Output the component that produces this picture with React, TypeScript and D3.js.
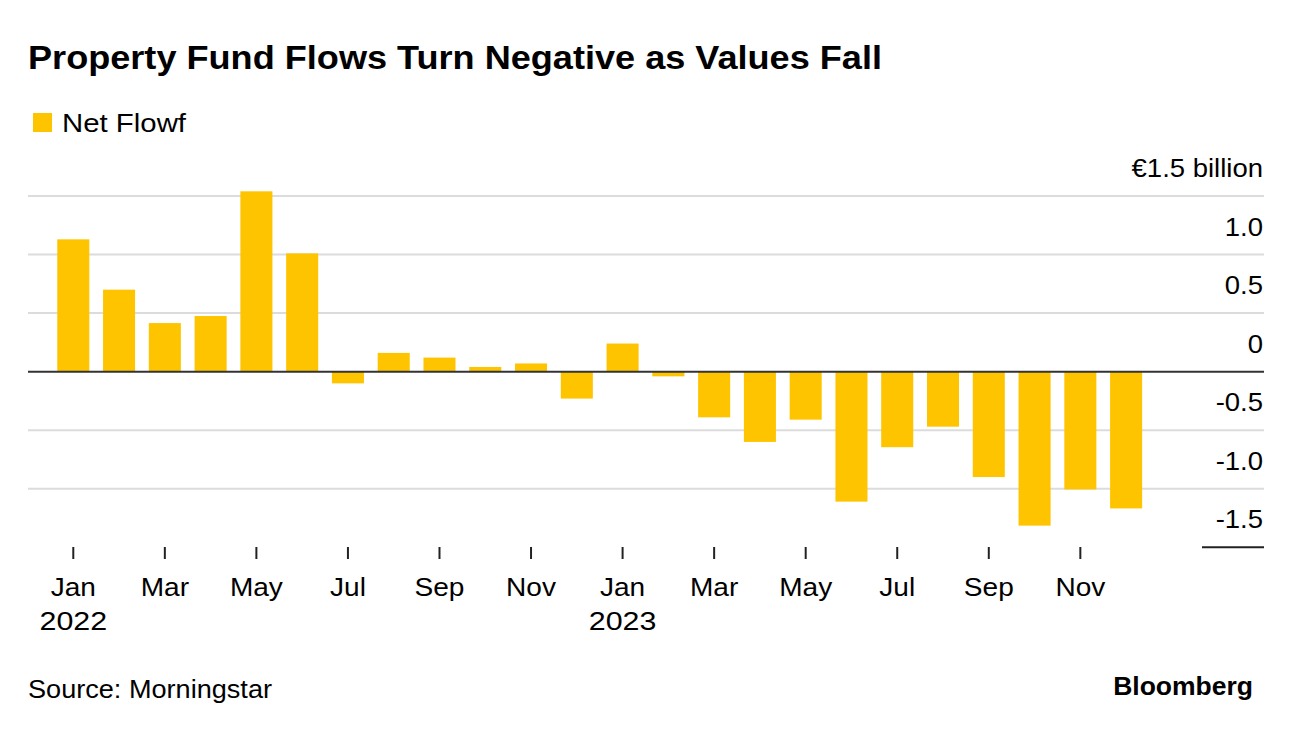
import React from "react";
import { scaleBand, scaleLinear } from "d3";

const months = [
  "2022-01", "2022-02", "2022-03", "2022-04", "2022-05", "2022-06",
  "2022-07", "2022-08", "2022-09", "2022-10", "2022-11", "2022-12",
  "2023-01", "2023-02", "2023-03", "2023-04", "2023-05", "2023-06",
  "2023-07", "2023-08", "2023-09", "2023-10", "2023-11", "2023-12"
];
// Net flow, EUR billion
const netFlow = [
  1.13, 0.70, 0.415, 0.475, 1.54, 1.01,
  -0.10, 0.16, 0.12, 0.04, 0.07, -0.23,
  0.24, -0.04, -0.39, -0.60, -0.41, -1.11,
  -0.645, -0.47, -0.90, -1.315, -1.006, -1.168
];
const monthNames = ["Jan", "Feb", "Mar", "Apr", "May", "Jun", "Jul", "Aug", "Sep", "Oct", "Nov", "Dec"];
const yTicks = [1.5, 1.0, 0.5, 0, -0.5, -1.0, -1.5];
const yTickLabels = ["€1.5 billion", "1.0", "0.5", "0", "-0.5", "-1.0", "-1.5"];

const W = 1292;
const H = 730;
const FONT = "'Liberation Sans', Arial, Helvetica, sans-serif";
const BAR = "#ffc400";

export default function App() {
  const x = scaleBand<string>()
    .domain(months)
    .range([50.4, 1149])
    .paddingInner(0.3)
    .paddingOuter(0.15);

  const y = scaleLinear().domain([-1.5, 1.5]).range([547.3, 196]);

  const gridLeft = 28;
  const gridRight = 1264;

  return (
    <svg
      width={W}
      height={H}
      viewBox={`0 0 ${W} ${H}`}
      style={{ position: "absolute", left: 0, top: 0, background: "#fff" }}
      fontFamily={FONT}
    >
      {/* Title */}
      <text
        x={28}
        y={69}
        fontSize={33}
        fontWeight={700}
        fill="#000"
        textLength={854}
        lengthAdjust="spacingAndGlyphs"
      >
        Property Fund Flows Turn Negative as Values Fall
      </text>

      {/* Legend */}
      <rect x={33} y={113} width={19} height={19} fill={BAR} />
      <text x={62} y={131.5} fontSize={26} fill="#000" textLength={124} lengthAdjust="spacingAndGlyphs">
        Net Flowf
      </text>

      {/* Grid lines */}
      {yTicks.map((v) => {
        if (v === 0) return null;
        if (v === -1.5) {
          return (
            <line key={v} x1={1202} x2={gridRight} y1={y(v)} y2={y(v)} stroke="#222" strokeWidth={2} />
          );
        }
        return (
          <line key={v} x1={gridLeft} x2={gridRight} y1={y(v)} y2={y(v)} stroke="#dcdcdc" strokeWidth={2} />
        );
      })}

      {/* Y labels */}
      {yTicks.map((v, i) => (
        <text
          key={v}
          transform={`translate(1263,${y(v) - 19}) scale(1.1,1)`}
          textAnchor="end"
          fontSize={25}
          fill="#000"
        >
          {yTickLabels[i]}
        </text>
      ))}

      {/* Bars */}
      {months.map((m, i) => {
        const v = netFlow[i];
        return (
          <rect
            key={m}
            x={x(m)}
            width={x.bandwidth()}
            y={Math.min(y(v), y(0))}
            height={Math.abs(y(v) - y(0))}
            fill={BAR}
          />
        );
      })}

      {/* Zero line */}
      <line x1={gridLeft} x2={gridRight} y1={y(0)} y2={y(0)} stroke="#333" strokeWidth={2} />

      {/* X ticks and labels */}
      {months.map((m, i) => {
        const mi = +m.slice(5) - 1;
        if (mi % 2 !== 0) return null;
        const cx = x(m)! + x.bandwidth() / 2;
        return (
          <g key={m}>
            <line x1={cx} x2={cx} y1={547} y2={559} stroke="#222" strokeWidth={2} />
            <text
              transform={`translate(${cx},596) scale(1.1,1)`}
              textAnchor="middle"
              fontSize={25.5}
              fill="#000"
            >
              {monthNames[mi]}
            </text>
            {mi === 0 && (
              <text
                transform={`translate(${cx},630) scale(1.17,1)`}
                textAnchor="middle"
                fontSize={26}
                fill="#000"
              >
                {m.slice(0, 4)}
              </text>
            )}
          </g>
        );
      })}

      {/* Footer */}
      <text x={28} y={698} fontSize={26} fill="#000" textLength={244} lengthAdjust="spacingAndGlyphs">
        Source: Morningstar
      </text>
      <text x={1253} y={695} textAnchor="end" fontSize={26.5} fontWeight={700} fill="#000">
        Bloomberg
      </text>
    </svg>
  );
}
